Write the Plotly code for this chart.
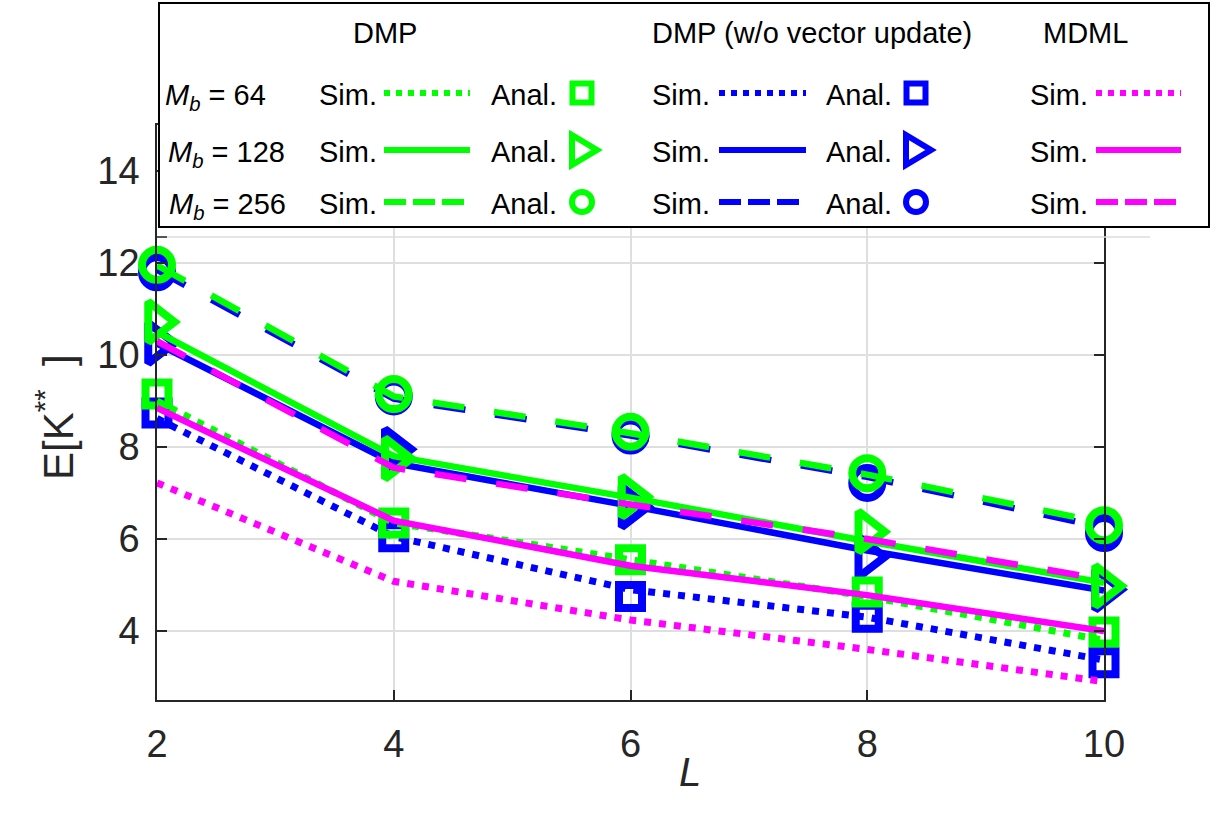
import plotly.graph_objects as go

# ---------------- data ----------------
L = [2, 4, 6, 8, 10]

# DMP (green)
dmp_sim_64 = [9.0, 6.35, 5.55, 4.75, 3.8]
dmp_sim_128 = [10.5, 7.8, 6.9, 5.95, 5.05]
dmp_sim_256 = [11.95, 9.1, 8.3, 7.4, 6.35]
dmp_anal_64 = [9.15, 6.35, 5.55, 4.85, 3.98]
dmp_anal_128 = [10.72, 7.75, 6.92, 6.16, 4.98]
dmp_anal_256 = [11.96, 9.15, 8.33, 7.43, 6.3]

# DMP w/o vector update (blue)
wo_sim_64 = [8.62, 6.05, 4.9, 4.3, 3.37]
wo_sim_128 = [10.25, 7.65, 6.72, 5.75, 4.88]
wo_sim_256 = [11.85, 9.05, 8.25, 7.35, 6.25]
wo_anal_64 = [8.74, 6.05, 4.75, 4.3, 3.31]
wo_anal_128 = [10.26, 7.95, 6.7, 5.61, 4.9]
wo_anal_256 = [11.8, 9.1, 8.25, 7.22, 6.13]

# MDML (magenta)
mdml_sim_64 = [7.22, 5.08, 4.24, 3.6, 2.9]
mdml_sim_128 = [8.85, 6.4, 5.42, 4.78, 4.0]
mdml_sim_256 = [10.3, 7.55, 6.75, 6.0, 5.12]

x_ticks = [2, 4, 6, 8, 10]
y_ticks = [4, 6, 8, 10, 12, 14]

GREEN = "#00FF00"
BLUE = "#0000FF"
MAGENTA = "#FF00FF"
AXC = "#262626"
FONT = "Liberation Sans, Arial, Helvetica, sans-serif"

DOT = "7px,8px"
DASH = "32px,30px"

fig = go.Figure()


def add_line(y, color, dash):
    w = 7 if dash == DOT else 6.5
    fig.add_trace(go.Scatter(x=L, y=y, mode="lines", cliponaxis=False,
                             line=dict(color=color, width=w, dash=dash),
                             showlegend=False, hoverinfo="skip"))


def add_markers(y, color, symbol, size):
    fig.add_trace(go.Scatter(x=L, y=y, mode="markers", cliponaxis=False,
                             marker=dict(symbol=symbol, size=size, color=color,
                                         line=dict(color=color, width=8)),
                             showlegend=False, hoverinfo="skip"))


# blue first
add_line(wo_sim_64, BLUE, DOT)
add_line(wo_sim_128, BLUE, "solid")
add_line(wo_sim_256, BLUE, DASH)
add_markers(wo_anal_64, BLUE, "square-open", 23)
add_markers(wo_anal_128, BLUE, "triangle-right-open", 35)
add_markers(wo_anal_256, BLUE, "circle-open", 30)
# green
add_line(dmp_sim_64, GREEN, DOT)
add_line(dmp_sim_128, GREEN, "solid")
add_line(dmp_sim_256, GREEN, DASH)
add_markers(dmp_anal_64, GREEN, "square-open", 23)
add_markers(dmp_anal_128, GREEN, "triangle-right-open", 35)
add_markers(dmp_anal_256, GREEN, "circle-open", 30)
# magenta
add_line(mdml_sim_64, MAGENTA, DOT)
add_line(mdml_sim_128, MAGENTA, "solid")
add_line(mdml_sim_256, MAGENTA, DASH)

# ---------------- layout helpers (pixel -> paper) ----------------
PL, PR, PT, PB = 157, 1104, 125, 700


def X(px):
    return (px - PL) / (PR - PL)


def Y(py):
    return (PB - py) / (PB - PT)


shapes = []
annotations = []

# stray gridline + tick seen in the reference just below the legend box
shapes.append(dict(type="line", xref="paper", yref="paper", x0=X(157), x1=X(1150),
                   y0=Y(237), y1=Y(237), line=dict(color="#DCDCDC", width=1.5),
                   layer="above"))
shapes.append(dict(type="line", xref="paper", yref="paper", x0=X(157), x1=X(167),
                   y0=Y(237), y1=Y(237), line=dict(color=AXC, width=1.5),
                   layer="above"))

# legend box
shapes.append(dict(type="rect", xref="paper", yref="paper", x0=X(159), x1=X(1209),
                   y0=Y(227), y1=Y(3), fillcolor="white",
                   line=dict(color="black", width=2), layer="above"))

rows = [95, 152, 204]
dashes_leg = ["6px,6px", "solid", "22px,7px"]


def leg_line(x0, x1, y, color, dash):
    shapes.append(dict(type="line", xref="paper", yref="paper", x0=X(x0), x1=X(x1),
                       y0=Y(y), y1=Y(y), line=dict(color=color, width=6, dash=dash),
                       layer="above"))


def leg_square(cx, cy, color):
    h = 9.5
    shapes.append(dict(type="rect", xref="paper", yref="paper", x0=X(cx - h), x1=X(cx + h),
                       y0=Y(cy + h), y1=Y(cy - h), line=dict(color=color, width=6),
                       fillcolor="rgba(0,0,0,0)", layer="above"))


def leg_circle(cx, cy, color):
    h = 10
    shapes.append(dict(type="circle", xref="paper", yref="paper", x0=X(cx - h), x1=X(cx + h),
                       y0=Y(cy + h), y1=Y(cy - h), line=dict(color=color, width=6),
                       fillcolor="rgba(0,0,0,0)", layer="above"))


def leg_triangle(cx, cy, color):
    p = "M {:.5f} {:.5f} L {:.5f} {:.5f} L {:.5f} {:.5f} Z".format(
        X(cx - 10), Y(cy - 15), X(cx - 10), Y(cy + 15), X(cx + 15), Y(cy))
    shapes.append(dict(type="path", xref="paper", yref="paper", path=p,
                       line=dict(color=color, width=6), fillcolor="rgba(0,0,0,0)",
                       layer="above"))


def text(t, px, py, anchor="left", size=29, color="black"):
    annotations.append(dict(text=t, x=X(px), y=Y(py), xref="paper", yref="paper",
                            xanchor=anchor, yanchor="middle", showarrow=False,
                            font=dict(family=FONT, size=size, color=color)))


# headers
text("DMP", 385, 33, "center")
text("DMP (w/o vector update)", 812, 33, "center")
text("MDML", 1085, 33, "center")

mb_labels = ["<i>M</i><sub><i>b</i></sub> = 64", "<i>M</i><sub><i>b</i></sub> = 128",
             "<i>M</i><sub><i>b</i></sub> = 256"]
mb_x = [163, 166, 167]
leg_markers = [leg_square, leg_triangle, leg_circle]

for i, cy in enumerate(rows):
    text(mb_labels[i], mb_x[i], cy + 2)
    # DMP
    text("Sim.", 317, cy)
    leg_line(384, 470, cy - 2, GREEN, dashes_leg[i])
    text("Anal.", 489, cy)
    leg_markers[i](582, cy - 2, GREEN)
    # w/o
    text("Sim.", 650, cy)
    leg_line(719, 806, cy - 2, BLUE, dashes_leg[i])
    text("Anal.", 824, cy)
    leg_markers[i](916, cy - 2, BLUE)
    # MDML
    text("Sim.", 1028, cy)
    leg_line(1096, 1181, cy - 2, MAGENTA, dashes_leg[i])

# axis titles
annotations.append(dict(text="E[K<sup>**</sup>  ]", x=X(55), y=Y(417), xref="paper",
                        yref="paper", xanchor="center", yanchor="middle", textangle=-90,
                        showarrow=False, font=dict(family=FONT, size=42, color=AXC)))
annotations.append(dict(text="<i>L</i>", x=X(690), y=Y(772), xref="paper", yref="paper",
                        xanchor="center", yanchor="middle", showarrow=False,
                        font=dict(family=FONT, size=40, color=AXC)))

axis_common = dict(showline=True, linecolor=AXC, linewidth=1.5, mirror="ticks",
                   ticks="inside", ticklen=10, tickwidth=1.5, tickcolor=AXC,
                   showgrid=True, gridcolor="#DFDFDF", gridwidth=1.5, zeroline=False,
                   tickfont=dict(family=FONT, size=38, color=AXC))

fig.update_layout(
    width=1221, height=821,
    margin=dict(l=PL, r=1221 - PR, t=PT, b=821 - PB, pad=0),
    paper_bgcolor="white", plot_bgcolor="white",
    xaxis=dict(range=[2, 10], tickvals=x_ticks, ticktext=[str(v) for v in x_ticks],
               ticklabelstandoff=10, **axis_common),
    yaxis=dict(range=[2.5, 15], tickvals=y_ticks, ticktext=[str(v) for v in y_ticks],
               ticklabelstandoff=8, **axis_common),
    shapes=shapes, annotations=annotations, showlegend=False,
)

fig.write_html("out.html")
